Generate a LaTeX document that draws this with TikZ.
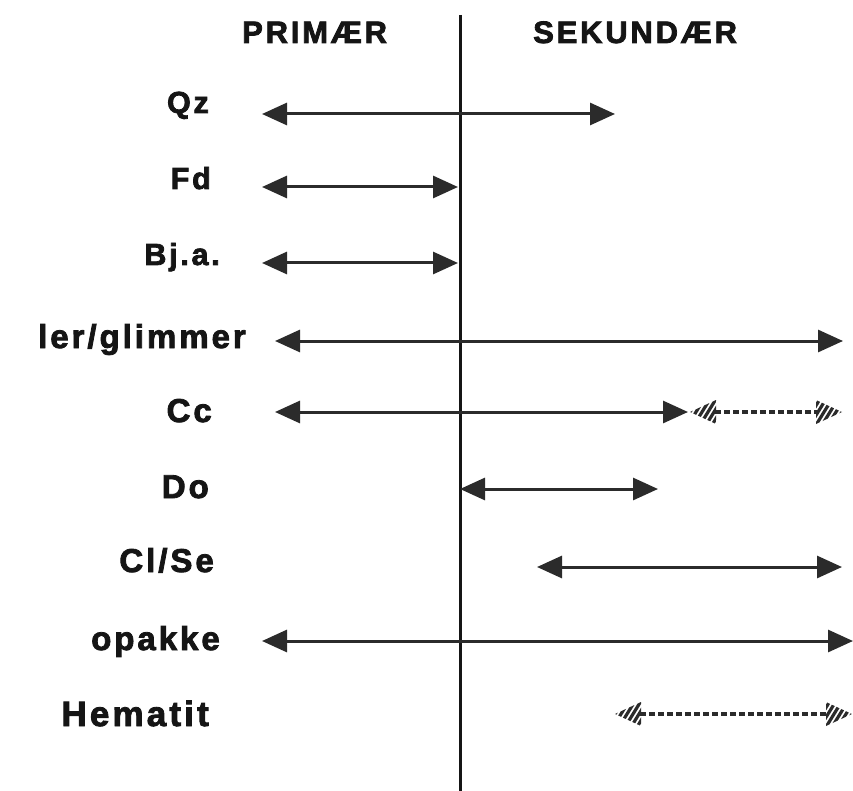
\documentclass[tikz,border=0pt]{standalone}
\usepackage{fontspec}
\newfontfamily\labfont{Liberation Sans}[LetterSpace=9,FakeBold=2.5]
\usetikzlibrary{arrows.meta}
\definecolor{ink}{HTML}{2B2B2B}
\definecolor{txt}{HTML}{151515}
% hatched arrow tip: #1 tip coordinate, #2 = 1 (points right) or -1 (points left)
\newcommand\hatchtip[2]{%
  \begin{scope}[shift={(#1)}]
    \clip (0,0) -- ({-26*#2},-12) -- ({-26*#2},12) -- cycle;
    \foreach \k in {-36,-30,...,36} \draw[ink,line width=3.2pt] (\k-8,13) -- (\k+8,-13);
  \end{scope}}
\begin{document}
\begin{tikzpicture}[x=1pt,y=-1pt,
  headtxt/.style={font=\labfont\bfseries\fontsize{31}{31}\selectfont, text=txt, inner sep=0pt},
  labsmall/.style={font=\labfont\bfseries\fontsize{30.5}{30}\selectfont, text=txt, inner sep=0pt, anchor=base east},
  labbig/.style={font=\labfont\bfseries\fontsize{33}{33}\selectfont, text=txt, inner sep=0pt, anchor=base east},
  rng/.style={draw=ink, line width=3pt, {Triangle[length=25pt,width=22pt]}-{Triangle[length=25pt,width=22pt]}},
  hatchline/.style={draw=ink, line width=3.2pt, dash pattern=on 6pt off 3pt, shorten <=25pt, shorten >=25pt},
  divider/.style={draw=txt, line width=3pt}]
\useasboundingbox (0,0) rectangle (853,791);

% divider
\coordinate (vt) at (460,15);
\coordinate (vb) at (460,791);
\draw[divider] (vt) -- (vb);

% headers
\node[headtxt, anchor=base west] (prim) at (242,43) {PRIMÆR};
\node[headtxt, anchor=base west] (sek) at (533,43) {SEKUNDÆR};

% labels
\node[labsmall] (qz) at (209,113) {Qz};
\node[labsmall] (fd) at (211,189) {Fd};
\node[labsmall] (bja) at (220,265) {Bj.a.};
\node[labbig] (ler) at (246,348) {ler/glimmer};
\node[labbig] (cc) at (212,422) {Cc};
\node[labbig] (do) at (209,498) {Do};
\node[labbig] (cl) at (214,572) {Cl/Se};
\node[labbig] (op) at (220,650) {opakke};
\node[labbig, font=\labfont\bfseries\fontsize{35}{35}\selectfont] (hem) at (209,726) {Hematit};

% range end points
\coordinate (qzA) at (262,114);  \coordinate (qzB) at (615,114);
\coordinate (fdA) at (262,187);  \coordinate (fdB) at (458,187);
\coordinate (bjA) at (262,263);  \coordinate (bjB) at (458,263);
\coordinate (leA) at (275,341);  \coordinate (leB) at (843,341);
\coordinate (ccA) at (275,412);  \coordinate (ccB) at (688,412);
\coordinate (ccC) at (690,412);  \coordinate (ccD) at (842,412);
\coordinate (doA) at (460,489);  \coordinate (doB) at (658,489);
\coordinate (clA) at (537,567);  \coordinate (clB) at (842,567);
\coordinate (opA) at (262,641);  \coordinate (opB) at (853,641);
\coordinate (heA) at (615,714);  \coordinate (heB) at (852,714);

% ranges
\draw[rng] (qzA) -- (qzB);
\draw[rng] (fdA) -- (fdB);
\draw[rng] (bjA) -- (bjB);
\draw[rng] (leA) -- (leB);
\draw[rng] (ccA) -- (ccB);
\draw[rng] (doA) -- (doB);
\draw[rng] (clA) -- (clB);
\draw[rng] (opA) -- (opB);

% uncertain ranges (hatched)
\draw[hatchline] (ccC) -- (ccD);
\hatchtip{ccC}{-1}
\hatchtip{ccD}{1}
\draw[hatchline] (heA) -- (heB);
\hatchtip{heA}{-1}
\hatchtip{heB}{1}
\end{tikzpicture}
\end{document}
